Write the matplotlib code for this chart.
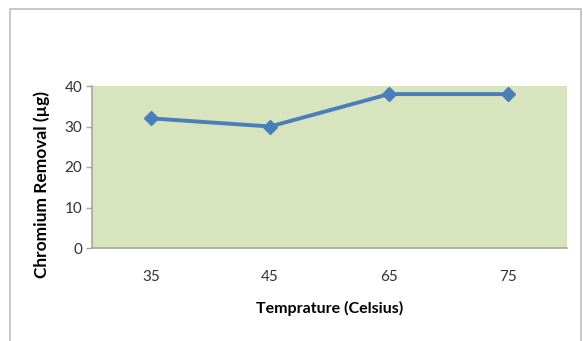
import matplotlib.pyplot as plt
from matplotlib.patches import Rectangle

temps = ['35', '45', '65', '75']
removal = [32, 30, 38, 38]
yticks = [0, 10, 20, 30, 40]

plt.rcParams['font.family'] = ['Lato', 'DejaVu Sans']

fig = plt.figure(figsize=(5.83, 3.41), dpi=100)
W, H = 583, 341

# outer chart border (runs off the bottom of the image)
fig.patches.append(Rectangle((10 / W, -0.05), 571 / W, 1.05 - 9 / H,
                             transform=fig.transFigure, fill=False,
                             edgecolor='#bfbfbf', linewidth=1.2))

ax = fig.add_axes([92 / W, (H - 248) / H, 475 / W, 162 / H])
ax.set_facecolor('#d7e4bd')
x = range(len(temps))
ax.plot(x, removal, color='#4a7ebb', linewidth=2.8, marker='D', markersize=7,
        markerfacecolor='#4a7ebb', markeredgecolor='#4a7ebb')

ax.set_xlim(-0.5, len(temps) - 0.5)
ax.set_ylim(0, 40)
ax.set_yticks(yticks)
ax.set_xticks(list(x))
ax.set_xticklabels(temps)
ax.tick_params(axis='x', length=0, pad=16, labelsize=11, colors='#333333')
ax.tick_params(axis='y', length=4, width=1, color='#a6a6a6', pad=3,
               labelsize=11, labelcolor='#333333')
for s in ['top', 'right']:
    ax.spines[s].set_visible(False)
for s in ['left', 'bottom']:
    ax.spines[s].set_color('#a6a6a6')
    ax.spines[s].set_linewidth(1.2)

ax.set_ylabel('Chromium Removal (µg)', fontsize=12.5, fontweight='bold')
ax.yaxis.set_label_coords(-0.088, 0.39)
ax.set_xlabel('Temprature (Celsius)', fontsize=11.5, fontweight='bold', labelpad=12)

fig.savefig('out.png', dpi=100)
